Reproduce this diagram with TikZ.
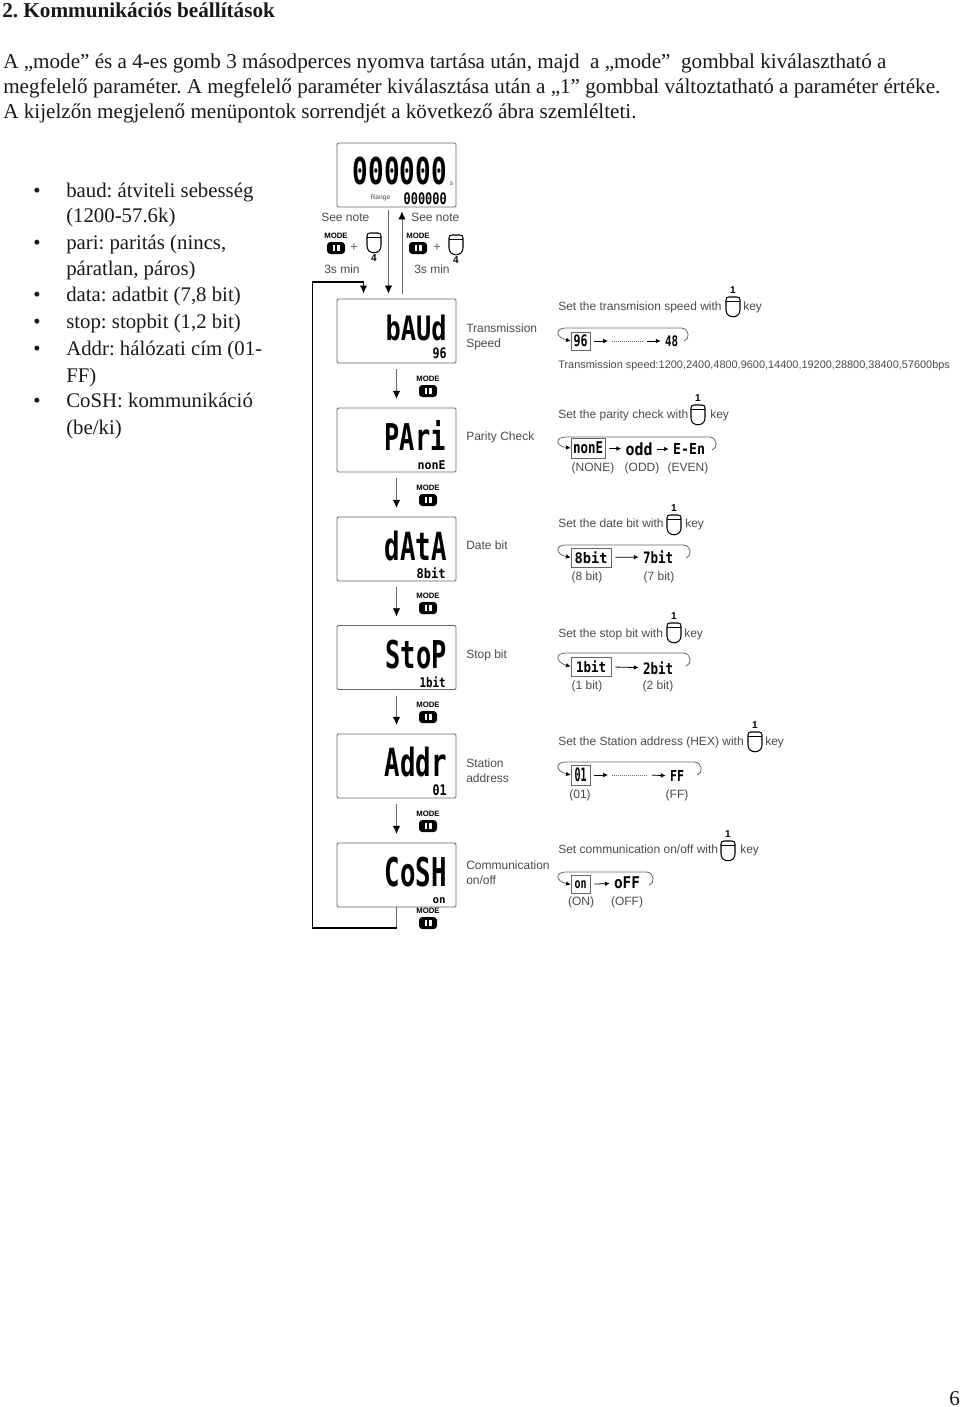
\documentclass[tikz,border=0pt]{standalone}
\usepackage{fontspec}
\usepackage{graphicx}
\usetikzlibrary{arrows.meta}
\setmainfont{Liberation Serif}
\newfontfamily\lcdfont{DejaVu Sans Mono}[BoldFont=* Bold]
\newfontfamily\labelfont{Liberation Sans}
\definecolor{labelgray}{HTML}{4A4A4A}
\definecolor{linegray}{HTML}{666666}
\newlength{\lcdpx}
\setlength{\lcdpx}{0.75pt}
\newcommand{\lcd}[3]{\resizebox*{#1\lcdpx}{#2\lcdpx}{\lcdfont\bfseries #3}}
\frenchspacing
\tikzset{
	bodytext/.style={anchor=base west, inner sep=0pt, font=\fontsize{15.85}{18}\selectfont, text=black!90},
	listtext/.style={bodytext, font=\fontsize{15.6}{18}\selectfont},
	lcdbox/.style={draw=linegray, rounded corners=1pt, minimum width=89.25pt, minimum height=48pt, inner sep=0pt, line width=0.7pt},
	lcdtext/.style={anchor=north east, inner sep=0pt},
	graylabel/.style={anchor=base west, inner sep=0pt, font=\labelfont\fontsize{9}{10}\selectfont, text=labelgray},
	capgray/.style={anchor=base, inner sep=0pt, font=\labelfont\fontsize{9}{10}\selectfont, text=labelgray},
	valbox/.style={draw=linegray, line width=0.6pt, inner sep=0pt},
	val/.style={inner sep=0pt},
	stepline/.style={draw=linegray, line width=0.5pt, -{Latex[length=6pt,width=5.5pt,black]}, shorten <=4.5pt, shorten >=6.5pt},
	valarr/.style={line width=0.6pt, -{Latex[length=3.6pt,width=3.4pt]}, shorten <=3pt, shorten >=3pt},
	dotline/.style={draw=linegray, line width=0.5pt, densely dotted},
	cycline/.style={draw=linegray, line width=0.6pt, -{Latex[length=3.4pt,width=3.4pt,black]}},
	pics/pushkey/.style n args={2}{code={
		\draw[line width=0.8pt] (-7,-7) .. controls (-7,-9) and (-6,-10) .. (-4,-10) -- (4,-10) .. controls (6,-10) and (7,-9) .. (7,-7) -- (7,3) .. controls (7,12) and (-7,12) .. (-7,3) -- cycle;
		\draw[line width=0.6pt] (-7,-6) -- (7,-6);
		\node[inner sep=0pt, font=\labelfont\bfseries\fontsize{7.5}{8}\selectfont] (-lbl) at (0,#2) {#1};
	}},
	pics/modekey/.style={code={
		\node[inner sep=0pt] (-lbl) at (0,-6) {\resizebox{17.5pt}{!}{\labelfont\bfseries MODE}};
		\fill[black, rounded corners=2.5pt] (-9,0) rectangle (9,12);
		\fill[white] (-3.5,3) rectangle (3.5,9);
		\fill[black] (-0.8,3) rectangle (0.8,9);
	}},
}
\newcommand{\cyc}[3]{\draw[cycline] (#2-3,#3+13) .. controls (#2+3,#3+12) and (#2+3,#3) .. (#2-6,#3) -- (566,#3) .. controls (555,#3) and (555,#3+9) .. (#1.west);}
\begin{document}
\begin{tikzpicture}[x=0.75pt, y=-0.75pt]
	\useasboundingbox (0,0) rectangle (960,1407);

	% Heading and paragraph
	\node[bodytext, font=\fontsize{15.9}{18}\selectfont\bfseries] (head) at (2,17) {2. Kommunikációs beállítások};
	\node[bodytext] (para1) at (3,68) {A „mode” és a 4-es gomb 3 másodperces nyomva tartása után, majd~ a „mode”~ gombbal kiválasztható a};
	\node[bodytext] (para2) at (3,93) {megfelelő paraméter. A megfelelő paraméter kiválasztása után a „1” gombbal változtatható a paraméter értéke.};
	\node[bodytext] (para3) at (3,118) {A kijelzőn megjelenő menüpontok sorrendjét a következő ábra szemlélteti.};

	% Bullet list
	\foreach \ypos/\txt [count=\i] in {197/baud: átviteli sebesség, 222/{(1200-57.6k)}, 249/{pari: paritás (nincs,}, 275/{páratlan, páros)}, 301/{data: adatbit (7,8 bit)}, 328/{stop: stopbit (1,2 bit)}, 355/{Addr: hálózati cím (01-}, 382/FF), 407/CoSH: kommunikáció, 434/{(be/ki)}}
		\node[listtext] (item\i) at (66,\ypos) {\txt};
	\foreach \ypos [count=\i] in {197,249,301,328,355,407}
		\node[listtext] (dot\i) at (33,\ypos) {•};

	% Page number
	\node[bodytext] (pagenum) at (949,1405) {6};

	% Displays
	\node[lcdbox] (lcdmain) at (396.5,175) {};
	\node[lcdbox] (lcdbaud) at (396.5,331) {};
	\node[lcdbox] (lcdpari) at (396.5,440) {};
	\node[lcdbox] (lcddata) at (396.5,549) {};
	\node[lcdbox] (lcdstop) at (396.5,657.5) {};
	\node[lcdbox] (lcdaddr) at (396.5,766) {};
	\node[lcdbox] (lcdcosh) at (396.5,875) {};

	% Display readings
	\node[lcdtext] (mainbig) at (447,157) {\lcd{94}{28}{000000}};
	\node[lcdtext] (mainsmall) at (447,192) {\lcd{43}{12}{000000}};
	\node[inner sep=0pt, font=\labelfont\fontsize{5}{6}\selectfont, text=labelgray] (mainrange) at (380.5,198) {Range};
	\node[inner sep=0pt, font=\labelfont\fontsize{5}{6}\selectfont, text=labelgray] (mainunit) at (451.5,184) {s};
	\node[lcdtext] (baudbig) at (447,315) {\lcd{61}{26}{bAUd}};
	\node[lcdtext] (baudsmall) at (447,348) {\lcd{14}{11}{96}};
	\node[lcdtext] (paribig) at (446,420) {\lcd{61}{30}{PAri}};
	\node[lcdtext] (parismall) at (446,460) {\lcd{28}{9}{nonE}};
	\node[lcdtext] (databig) at (447,531) {\lcd{62}{30}{dAtA}};
	\node[lcdtext] (datasmall) at (446,567) {\lcd{29}{11}{8bit}};
	\node[lcdtext] (stopbig) at (447,640) {\lcd{61}{29}{StoP}};
	\node[lcdtext] (stopsmall) at (446,676) {\lcd{26}{11}{1bit}};
	\node[lcdtext] (addrbig) at (447,747) {\lcd{62}{30}{Addr}};
	\node[lcdtext] (addrsmall) at (447,784) {\lcd{14}{11}{01}};
	\node[lcdtext] (coshbig) at (447,857) {\lcd{62}{30}{CoSH}};
	\node[lcdtext] (coshsmall) at (446,897) {\lcd{13}{6}{on}};

	% Display captions
	\node[graylabel] (captionbauda) at (466,332) {Transmission};
	\node[graylabel] (captionbaudb) at (466,347) {Speed};
	\node[graylabel] (captionpari) at (466,440) {Parity Check};
	\node[graylabel] (captiondata) at (466,549) {Date bit};
	\node[graylabel] (captionstop) at (466,658) {Stop bit};
	\node[graylabel] (captionaddra) at (466,767) {Station};
	\node[graylabel] (captionaddrb) at (466,782) {address};
	\node[graylabel] (captioncosha) at (466,869) {Communication};
	\node[graylabel] (captioncoshb) at (466,884) {on/off};

	% Entering and leaving the menu
	\node[graylabel] (notea) at (321,221) {See note};
	\node[graylabel] (noteb) at (411,221) {See note};
	\node[graylabel] (mina) at (324,273) {3s min};
	\node[graylabel] (minb) at (414,273) {3s min};
	\pic (entermode) at (336,242) {modekey};
	\pic (leavemode) at (418,242) {modekey};
	\node[capgray, font=\labelfont\fontsize{10}{10}\selectfont, text=linegray] (plusa) at (354,251) {+};
	\node[capgray, font=\labelfont\fontsize{10}{10}\selectfont, text=linegray] (plusb) at (437,251) {+};
	\pic (enterkey) at (374,243) {pushkey={4}{15}};
	\pic (leavekey) at (456,245) {pushkey={4}{15}};
	\draw[stepline, shorten <=2pt, shorten >=3.75pt] ([xshift=-6pt]lcdmain.south) -- ([xshift=-6pt]lcdbaud.north);
	\draw[stepline, shorten <=3.75pt, shorten >=3pt] ([xshift=4.1pt]lcdbaud.north) -- ([xshift=4.1pt]lcdmain.south);

	% Menu order
	\foreach \from/\to in {lcdbaud/lcdpari, lcdpari/lcddata, lcddata/lcdstop, lcdstop/lcdaddr, lcdaddr/lcdcosh}
		\draw[stepline] (\from) -- (\to);
	\foreach \ypos [count=\i] in {385,494,602,711,820,917}
		\pic (menumode\i) at (428,\ypos) {modekey};

	% Way back to the first item
	\coordinate (backa) at (396.5,928);
	\coordinate (backb) at (312.5,928);
	\coordinate (backc) at (312.5,282);
	\coordinate (backd) at (363.5,282);
	\draw[linegray, line width=0.6pt] (lcdcosh.south) -- (backa);
	\draw[line width=0.8pt, -{Latex[length=6pt,width=5.5pt]}, shorten >=3.75pt] (backa) -- (backb) -- (backc) -- (backd) -- (backd |- lcdbaud.north);

	% Transmission speed
	\node[graylabel] (setbaud) at (558,310) {Set the transmision speed with};
	\pic (keybaud) at (733,307) {pushkey={1}{-17}};
	\node[graylabel] (keytxtbaud) at (743,310) {key};
	\node[valbox, minimum width=14.25pt, minimum height=13.5pt] (valbauda) at (580.5,341) {\lcd{14}{12}{96}};
	\node[val] (valbaudb) at (671.5,341) {\lcd{13}{11}{48}};
	\coordinate (dotsa) at (612,341);
	\coordinate (dotsb) at (643,341);
	\draw[valarr] (valbauda) -- (dotsa);
	\draw[dotline] (dotsa) -- (dotsb);
	\draw[valarr] (dotsb) -- (valbaudb);
	\cyc{valbauda}{687}{328}
	\node[graylabel, font=\labelfont\fontsize{8.2}{10}\selectfont] (baudlist) at (558,368) {Transmission speed:1200,2400,4800,9600,14400,19200,28800,38400,57600bps};

	% Parity check
	\node[graylabel] (setpari) at (558,418) {Set the parity check with};
	\pic (keypari) at (698,415) {pushkey={1}{-17}};
	\node[graylabel] (keytxtpari) at (710,418) {key};
	\node[valbox, minimum width=25.5pt, minimum height=15pt] (valparia) at (588,448) {\lcd{30}{12}{nonE}};
	\node[val] (valparib) at (639,449) {\lcd{27}{13}{odd}};
	\node[val] (valparic) at (689,449) {\lcd{32}{11}{E-En}};
	\draw[valarr] (valparia) -- (valparib);
	\draw[valarr] (valparib) -- (valparic);
	\cyc{valparia}{715}{437}
	\node[capgray] (capparia) at (593,471) {(NONE)};
	\node[capgray] (capparib) at (642,471) {(ODD)};
	\node[capgray] (capparic) at (688,471) {(EVEN)};

	% Data bit
	\node[graylabel] (setdata) at (558,527) {Set the date bit with};
	\pic (keydata) at (674,525) {pushkey={1}{-17}};
	\node[graylabel] (keytxtdata) at (685,527) {key};
	\node[valbox, minimum width=30pt, minimum height=14.25pt] (valdataa) at (591,557.5) {\lcd{33}{12}{8bit}};
	\node[val] (valdatab) at (658,557) {\lcd{30}{13}{7bit}};
	\draw[valarr] (valdataa) -- (valdatab);
	\cyc{valdataa}{689}{545}
	\node[capgray] (capdataa) at (587,580) {(8 bit)};
	\node[capgray] (capdatab) at (659,580) {(7 bit)};

	% Stop bit
	\node[graylabel] (setstop) at (558,637) {Set the stop bit with};
	\pic (keystop) at (674,633) {pushkey={1}{-17}};
	\node[graylabel] (keytxtstop) at (684,637) {key};
	\node[valbox, minimum width=30pt, minimum height=14.25pt] (valstopa) at (591,666.5) {\lcd{30}{12}{1bit}};
	\node[val] (valstopb) at (658,668) {\lcd{30}{13}{2bit}};
	\draw[valarr] (valstopa) -- (valstopb);
	\cyc{valstopa}{689}{653}
	\node[capgray] (capstopa) at (587,689) {(1 bit)};
	\node[capgray] (capstopb) at (658,689) {(2 bit)};

	% Station address
	\node[graylabel] (setaddr) at (558,745) {Set the Station address (HEX) with};
	\pic (keyaddr) at (755,742) {pushkey={1}{-17}};
	\node[graylabel] (keytxtaddr) at (765,745) {key};
	\node[valbox, minimum width=14.25pt, minimum height=15pt] (valaddra) at (580.5,775) {\lcd{12}{14}{01}};
	\node[val] (valaddrb) at (677,776) {\lcd{14}{11}{FF}};
	\coordinate (dotsc) at (612,775);
	\coordinate (dotsd) at (648,775);
	\draw[valarr] (valaddra) -- (dotsc);
	\draw[dotline] (dotsc) -- (dotsd);
	\draw[valarr] (dotsd) -- (valaddrb);
	\cyc{valaddra}{700}{762}
	\node[capgray] (capaddra) at (580,798) {(01)};
	\node[capgray] (capaddrb) at (677,798) {(FF)};

	% Communication
	\node[graylabel] (setcosh) at (558,853) {Set communication on/off with};
	\pic (keycosh) at (728,851) {pushkey={1}{-17}};
	\node[graylabel] (keytxtcosh) at (740,853) {key};
	\node[valbox, minimum width=14.25pt, minimum height=13pt] (valcosha) at (580.5,884.5) {\lcd{12}{8}{on}};
	\node[val] (valcoshb) at (627,883) {\lcd{26}{12}{oFF}};
	\draw[valarr] (valcosha) -- (valcoshb);
	\cyc{valcosha}{652}{872}
	\node[capgray] (capcosha) at (581,905) {(ON)};
	\node[capgray] (capcoshb) at (627,905) {(OFF)};
\end{tikzpicture}
\end{document}
